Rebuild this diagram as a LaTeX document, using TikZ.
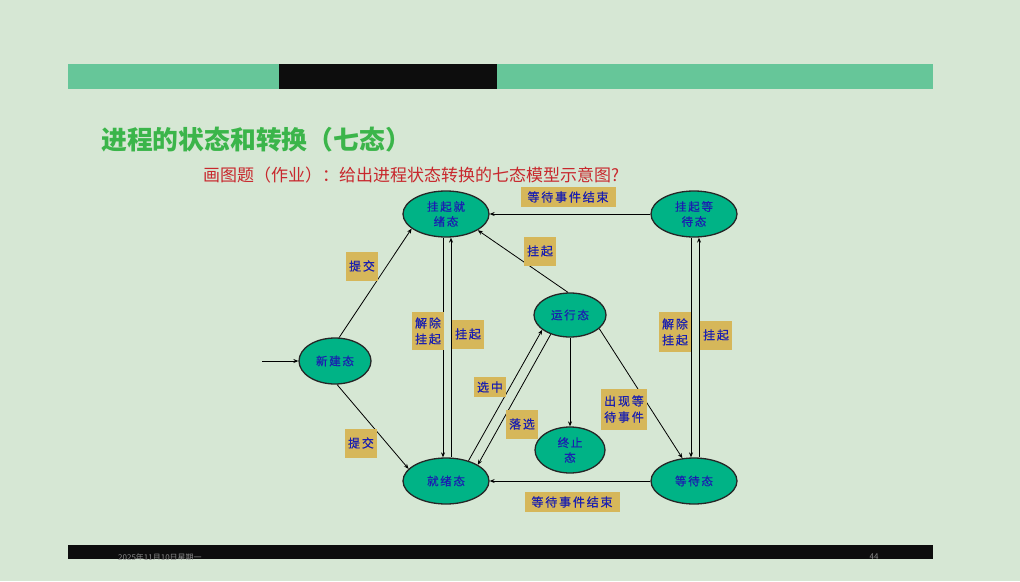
\documentclass[tikz,border=0pt]{standalone}
\usepackage{fontspec}
\usepackage{tikz}
\usetikzlibrary{arrows.meta,shapes.geometric}
\newfontfamily\cjk{Noto Sans CJK SC}
\newfontfamily\cjkls[LetterSpace=15,FakeBold=0.6]{Noto Sans CJK SC}
\definecolor{bg}{HTML}{D6E7D4}
\definecolor{bar}{HTML}{66C699}
\definecolor{stfill}{HTML}{00B386}
\definecolor{sttext}{HTML}{1A1FB0}
\definecolor{tag}{HTML}{D6B75A}
\definecolor{ttl}{HTML}{3BB54A}
\definecolor{sub}{HTML}{C8282D}

\begin{document}
\begin{tikzpicture}[
  x=1pt, y=-1pt,
  st/.style={draw=black!85, line width=1.3pt, ellipse, fill=stfill,
             minimum width=86pt, minimum height=46pt, inner sep=0pt,
             align=center, text=sttext, font=\cjkls\fontsize{11.5}{15}\selectfont},
  lbl/.style={fill=tag, inner xsep=3pt, inner ysep=4pt, align=center,
              text=sttext, font=\cjkls\fontsize{12}{16}\selectfont},
  a/.style={-{Stealth[length=5pt,width=4pt]}, line width=0.8pt}
]
% ---- page ----
\useasboundingbox (0,0) rectangle (1020,581);
\fill[bg] (0,0) rectangle (1020,581);
\fill[bar] (68,63.5) rectangle (933,89);
\fill[black!95] (279,63.5) rectangle (497,89);
\fill[black!95] (68,545) rectangle (933,559);
\begin{scope}
  \clip (68,545) rectangle (933,559);
  \node[anchor=west, text=black!45, font=\cjk\fontsize{8}{8}\selectfont, inner sep=0pt] (date) at (118,557) {2025年11月10日星期一};
  \node[text=black!45, font=\cjk\fontsize{8}{8}\selectfont, inner sep=0pt] (page) at (874,557) {44};
\end{scope}

\node[anchor=west, text=ttl, font=\cjk\bfseries\fontsize{25.8}{26}\selectfont, inner sep=0pt] (title) at (101,140) {进程的状态和转换（七态）};
\node[anchor=west, text=sub, font=\cjk\fontsize{17}{17}\selectfont, inner sep=0pt] (task) at (203,175) {画图题（作业）：给出进程状态转换的七态模型示意图?};

% ---- states ----
\node[st] (sready) at (446,214) {挂起就\\绪态};
\node[st] (swait)  at (694,214) {挂起等\\待态};
\node[st, minimum width=72pt, minimum height=44pt] (run) at (570,315) {运行态};
\node[st, minimum width=72pt] (new)  at (335,361) {新建态};
\node[st] (ready)  at (446,481) {就绪态};
\node[st, minimum width=70pt] (term) at (570,450) {终止\\态};
\node[st] (wait)   at (694,481) {等待态};
\coordinate (in) at (262,361);

% ---- transitions ----
\draw[a] (in) -- (new.west);
\draw[a] (new.80) -- (sready.203);
\draw[a] (new.275) -- (ready.162);
\draw[a] ([xshift=-3pt]sready.south) -- ([xshift=-3pt]ready.north);
\draw[a] ([xshift=5pt]ready.north) -- ([xshift=5pt]sready.south);
\draw[a] (run.95) -- (sready.333);
\draw[a] (swait.west) -- (sready.east);
\draw[a] ([xshift=-3pt]swait.south) -- ([xshift=-3pt]wait.north);
\draw[a] ([xshift=5pt]wait.north) -- ([xshift=5pt]swait.south);
\draw[a] (run.south) -- (term.north);
\draw[a] (run.335) -- (wait.117);
\draw[a] (ready.42) -- (run.208);
\draw[a] (run.225) -- (ready.27);
\draw[a] (wait.west) -- (ready.east);

% ---- labels ----
\node[lbl, minimum width=95pt] (l1) at (568,197) {等待事件结束};
\node[lbl, minimum height=29pt] (l2) at (540,251) {挂起};
\node[lbl, minimum height=29pt] (l3) at (362,266) {提交};
\node[lbl, minimum height=38pt] (l4) at (428,331) {解除\\挂起};
\node[lbl, minimum height=29pt] (l5) at (468,334) {挂起};
\node[lbl, minimum height=40pt] (l6) at (675,332) {解除\\挂起};
\node[lbl, minimum height=29pt] (l7) at (716,335) {挂起};
\node[lbl] (l8) at (490,387) {选中};
\node[lbl, minimum height=29pt] (l9) at (522,424) {落选};
\node[lbl, minimum height=29pt] (l10) at (361,443) {提交};
\node[lbl, minimum height=41pt] (l11) at (624,409) {出现等\\待事件};
\node[lbl, minimum width=95pt] (l12) at (572,502) {等待事件结束};
\end{tikzpicture}
\end{document}
